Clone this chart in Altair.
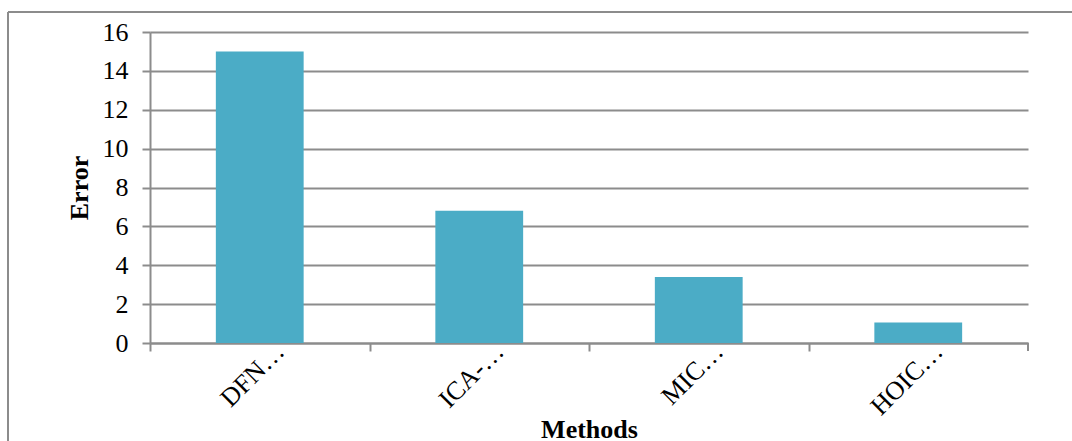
import altair as alt
import pandas as pd

# Error per method
methods = ["DFN…", "ICA-…", "MIC…", "HOIC…"]
errors = [15.0, 6.8, 3.4, 1.05]

df = pd.DataFrame({"Methods": methods, "Error": errors})

FONT = "Liberation Serif"
GRAY = "#8c8c8c"
BAR = "#4BACC6"
W, H = 878, 311
STEP = W / len(methods)

bars = alt.Chart(df).mark_bar(color=BAR).encode(
    x=alt.X(
        "Methods:N",
        sort=methods,
        scale=alt.Scale(paddingInner=0.6, paddingOuter=0.3),
        axis=alt.Axis(
            title="Methods",
            titleFont=FONT,
            titleFontSize=26,
            titleFontWeight="bold",
            titleColor="black",
            titleBaseline="alphabetic",
            titleY=94,
            labelFont=FONT,
            labelFontSize=26,
            labelColor="black",
            labelAngle=-45,
            labelAlign="right",
            labelBaseline="middle",
            labelOffset=STEP / 2 + 20,
            labelPadding=-4,
            labelLimit=0,
            tickOffset=-STEP / 2,
            tickSize=8,
            tickColor=GRAY,
            tickWidth=2,
            domainColor=GRAY,
            domainWidth=2,
            grid=False,
        ),
    ),
    y=alt.Y(
        "Error:Q",
        scale=alt.Scale(domain=[0, 16], nice=False),
        axis=alt.Axis(
            title="Error",
            titleFont=FONT,
            titleFontSize=26,
            titleFontWeight="bold",
            titleColor="black",
            titlePadding=10,
            values=[0, 2, 4, 6, 8, 10, 12, 14, 16],
            labelFont=FONT,
            labelFontSize=26,
            labelColor="black",
            labelPadding=14,
            tickSize=8,
            tickColor=GRAY,
            tickWidth=2,
            domainColor=GRAY,
            domainWidth=2,
            grid=True,
            gridColor=GRAY,
            gridWidth=2,
        ),
    ),
)

# Closing tick at the right end of the category axis
end_tick = alt.Chart(df).mark_rule(color=GRAY, strokeWidth=2).encode(
    x=alt.value(W), y=alt.value(H), y2=alt.value(H + 8)
)

# Outer frame around the chart (top and left edges)
frame_top = alt.Chart(df).mark_rule(color=GRAY, strokeWidth=2).encode(
    x=alt.value(-142), x2=alt.value(W + 60), y=alt.value(-20)
)
frame_left = alt.Chart(df).mark_rule(color=GRAY, strokeWidth=2).encode(
    x=alt.value(-142), y=alt.value(-20), y2=alt.value(H + 120)
)

chart = (
    alt.layer(bars, end_tick, frame_top, frame_left)
    .properties(
        width=W,
        height=H,
        autosize=alt.AutoSizeParams(type="none"),
        padding={"left": 150, "top": 32, "right": 44, "bottom": 98},
        background="white",
    )
    .configure_view(stroke=None)
)

chart.save("out.html", embed_options={"renderer": "svg", "actions": False})
